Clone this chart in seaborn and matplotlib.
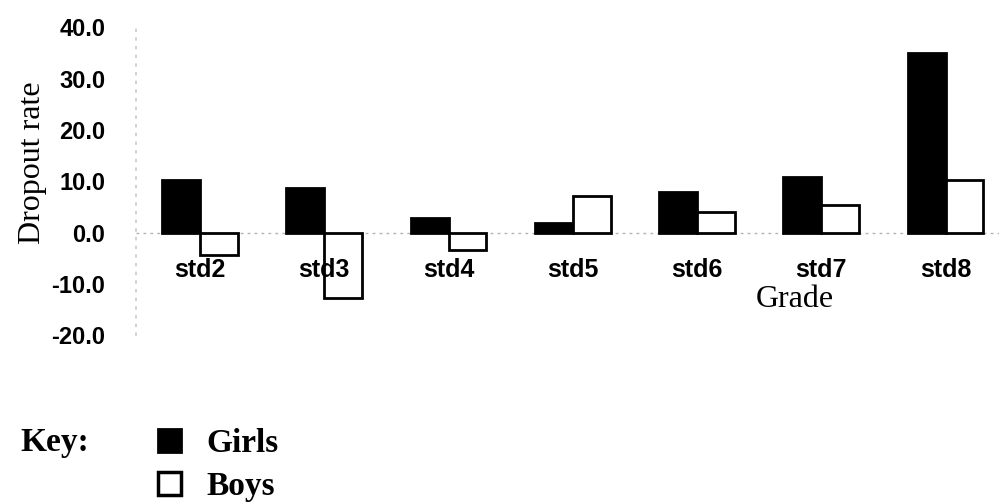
import matplotlib
matplotlib.use("Agg")
import matplotlib.pyplot as plt
import seaborn as sns
import pandas as pd
from matplotlib.patches import Patch

grades = ["std2", "std3", "std4", "std5", "std6", "std7", "std8"]
girls = [10.2, 8.6, 2.8, 1.9, 7.8, 10.9, 35.0]
boys = [-4.3, -12.8, -3.5, 7.1, 4.0, 5.4, 10.2]
yticks = [-20, -10, 0, 10, 20, 30, 40]

df = pd.DataFrame({
    "Grade": grades * 2,
    "Rate": girls + boys,
    "Sex": ["Girls"] * len(grades) + ["Boys"] * len(grades),
})

sns.set_theme(style="white")
plt.rcParams["font.family"] = ["Liberation Sans", "DejaVu Sans"]
plt.rcParams["text.color"] = "black"
plt.rcParams["xtick.color"] = "black"
plt.rcParams["ytick.color"] = "black"
plt.rcParams["axes.labelcolor"] = "black"

fig = plt.figure(figsize=(10, 5.04), dpi=100)
ax = fig.add_axes([0.136, 0.335, 0.863, 0.611])

sns.barplot(data=df, x="Grade", y="Rate", hue="Sex", order=grades,
            hue_order=["Girls", "Boys"], palette={"Girls": "black", "Boys": "white"},
            width=0.61, edgecolor="black", linewidth=2, legend=False, ax=ax)
ax.set_axisbelow(False)

ax.set_ylim(-20, 40)
ax.set_xlim(-0.515, 6.43)
ax.set_yticks(yticks)
ax.set_yticklabels([f"{v:.1f}" for v in yticks], fontsize=17, fontweight="bold")
ax.tick_params(axis="y", length=0, pad=22, labelcolor="black")

ax.axhline(0, color="0.7", ls=(0, (2, 3)), lw=1, zorder=0)
for s in ["top", "right"]:
    ax.spines[s].set_visible(False)
ax.spines["left"].set_color("0.8")
ax.spines["left"].set_linestyle((0, (1, 4)))
ax.spines["bottom"].set_position(("data", 0))
ax.spines["bottom"].set_visible(False)
ax.tick_params(axis="x", length=0, pad=18, labelsize=18, labelcolor="black")
for lbl in ax.get_xticklabels():
    lbl.set_fontweight("bold")

ax.set_xlabel("")
ax.set_ylabel("Dropout rate", family="Liberation Serif", fontsize=23, color="black")
ax.yaxis.set_label_coords(-0.103, 0.56)
fig.text(0.795, 0.405, "Grade", family="Liberation Serif", fontsize=23,
         ha="center", va="center", color="black")

fig.text(0.02, 0.122, "Key:", family="Liberation Serif", fontsize=24,
         fontweight="bold", va="center", color="black")
handles = [Patch(facecolor="black", edgecolor="black", lw=2),
           Patch(facecolor="white", edgecolor="black", lw=2.5)]
fig.legend(handles, ["Girls", "Boys"], loc="upper left",
           bbox_to_anchor=(0.158, 0.15), frameon=False,
           prop={"family": "Liberation Serif", "weight": "bold", "size": 24},
           handlelength=0.7, handleheight=0.7, handletextpad=0.75,
           labelspacing=0.35, borderpad=0, borderaxespad=0)

fig.savefig("out.png", dpi=100, facecolor="white")
